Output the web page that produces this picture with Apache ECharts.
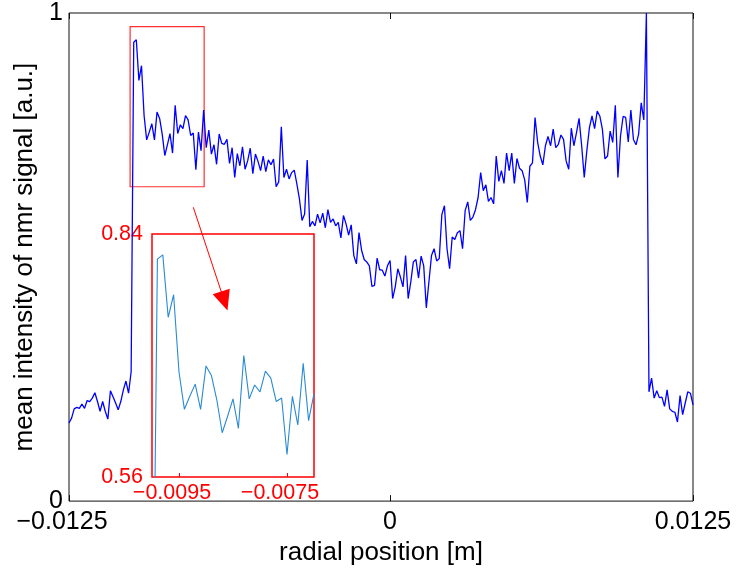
<!DOCTYPE html>
<html>
<head>
<meta charset="utf-8">
<script src="https://cdn.jsdelivr.net/npm/echarts@6/dist/echarts.min.js"></script>
<style>
html,body{margin:0;padding:0;background:#fff;}
#chart{width:737px;height:571px;}
</style>
</head>
<body>
<div id="chart"></div>
<script>
// ---- data ----
// main profile: sampled every 0.1 mm starting at -12.4 mm
const X_START = -0.0124;
const X_STEP = 0.0001;
const signal = [
  0.160,0.170,0.189,0.192,0.190,0.199,0.190,0.206,0.204,0.211,0.222,0.204,0.184,0.204,0.184,0.168,0.226,0.214,0.201,0.187,0.204,0.228,0.246,0.221,
  0.265,0.940,0.945,0.862,0.892,0.790,0.740,0.756,0.773,0.740,0.797,0.784,0.752,0.708,0.730,0.753,0.713,0.811,0.753,0.771,0.763,0.790,0.781,0.749,0.754,0.679,0.756,0.718,0.801,0.724,0.760,
  0.711,0.730,0.690,0.752,0.733,0.731,0.741,0.692,0.724,0.663,0.712,0.687,0.726,0.680,0.697,0.723,0.671,0.711,0.696,0.677,0.707,0.675,0.699,0.689,0.701,0.644,0.654,0.767,0.663,0.680,0.660,0.673,0.678,0.650,0.619,
  0.575,0.588,0.699,
  0.562,0.573,0.564,0.588,0.570,0.590,0.560,0.597,0.571,0.578,
  0.564,0.571,0.539,0.585,0.568,0.545,0.566,0.503,0.486,0.550,
  0.514,0.495,0.490,0.482,0.440,0.442,0.498,0.474,0.473,0.461,
  0.482,0.493,0.415,0.439,0.476,0.459,0.439,0.503,0.415,0.449,
  0.490,0.495,0.457,0.502,0.482,0.396,0.449,0.503,0.517,0.492,
  0.497,0.587,0.605,0.517,0.476,0.541,0.536,0.550,0.554,0.517,
  0.595,0.613,0.575,0.582,0.597,0.622,0.673,0.636,0.648,0.614,
  0.622,0.609,0.707,0.655,0.677,0.651,0.713,0.677,0.713,0.651,
  0.702,0.682,0.677,0.658,0.612,0.686,0.693,
  0.786,0.735,0.707,0.689,0.728,0.747,0.728,0.762,0.724,0.731,
  0.750,0.741,0.697,0.680,0.764,0.728,0.755,0.784,0.728,0.663,
  0.718,0.765,0.789,0.763,0.799,0.789,0.762,0.701,0.707,0.758,
  0.735,0.811,0.663,0.748,0.788,0.786,0.736,0.801,0.741,0.730,
  0.752,0.816,0.781,1.000,
  0.224,0.252,0.211,0.226,0.212,0.213,0.194,0.228,0.189,0.184,0.182,0.162,0.216,0.177,0.201,0.224,0.221,0.197
];
// inset (zoom of the left edge), in its own units
const INSET_X_START = -0.0100;
const insetSignal = [
  0.229,0.811,0.816,0.744,0.770,0.681,0.638,0.653,0.667,0.638,0.688,0.677,0.649,0.611,0.630,0.650,
  0.616,0.700,0.650,0.666,0.658,0.682,0.674,0.647,0.651,0.586,0.653,0.620,0.691,0.625,0.656
];
// axis ticks
const mainXRange = [-0.0124, 0.0117];
const mainXTicks = [-0.0124, 0, 0.0117];
const mainXTickLabels = ['\u22120.0125', '0', '0.0125'];
const mainYTicks = [0, 1];
const insetXRange = [-0.0100, -0.0070];
const insetYRange = [0.56, 0.84];
const insetXTicks = [-0.0095, -0.0075];
const insetYTicks = [0.56, 0.84];
// annotations (data space)
const zoomBox = { x: [-0.01004, -0.00718], y: [0.644, 0.972] };
const arrow = { from: [-0.0076, 0.602], to: [-0.0064, 0.410] };

// ---- build ----
const mainData = signal.map((v, i) => [+(X_START + i * X_STEP).toFixed(5), v]);
const insetData = insetSignal.map((v, i) => [+(INSET_X_START + i * X_STEP).toFixed(5), v]);

const FONT = "'Liberation Sans', Arial, Helvetica, sans-serif";
const RED = '#ff0000';

function mainXLabel(v) {
  let best = 0, d = Infinity;
  mainXTicks.forEach((t, i) => { if (Math.abs(t - v) < d) { d = Math.abs(t - v); best = i; } });
  const s = mainXTickLabels[best];
  return s.charAt(0) === '\u2212' ? '{neg|' + s + '}' : s;
}
function insetXLabel(v) {
  return '{neg|\u2212' + Math.abs(v).toFixed(4) + '}';
}

const chart = echarts.init(document.getElementById('chart'), null, { renderer: 'canvas' });
chart.setOption({
  animation: false,
  backgroundColor: '#fff',
  textStyle: { fontFamily: FONT },
  grid: [
    { left: 69, top: 13, width: 624, height: 490, show: true, borderColor: '#111', borderWidth: 1, backgroundColor: 'transparent' },
    { left: 152, top: 234, width: 162, height: 243, show: true, borderColor: RED, borderWidth: 1.5, backgroundColor: 'transparent' }
  ],
  xAxis: [
    {
      type: 'value', gridIndex: 0, position: 'bottom',
      min: mainXRange[0], max: mainXRange[1],
      name: 'radial position [m]', nameLocation: 'middle', nameGap: 33,
      nameTextStyle: { fontSize: 26, color: '#000', fontFamily: FONT },
      axisLine: { show: false },
      splitLine: { show: false },
      axisTick: { show: true, inside: true, length: 6, customValues: mainXTicks, lineStyle: { color: '#111' } },
      axisLabel: {
        show: true, customValues: mainXTicks, formatter: mainXLabel, margin: 9,
        fontSize: 25, color: '#000', fontFamily: FONT,
        showMinLabel: true, showMaxLabel: true,
        rich: { neg: { fontSize: 25, color: '#000', fontFamily: FONT, padding: [0, 14, 0, 0] } }
      }
    },
    {
      type: 'value', gridIndex: 0, position: 'top',
      min: mainXRange[0], max: mainXRange[1],
      axisLine: { show: false }, splitLine: { show: false },
      axisTick: { show: true, inside: true, length: 6, customValues: mainXTicks, lineStyle: { color: '#111' } },
      axisLabel: { show: false }
    },
    {
      type: 'value', gridIndex: 1, position: 'bottom',
      min: insetXRange[0], max: insetXRange[1],
      axisLine: { show: false }, splitLine: { show: false },
      axisTick: { show: true, inside: true, length: 4, customValues: insetXTicks, lineStyle: { color: RED } },
      axisLabel: {
        show: true, customValues: insetXTicks, formatter: insetXLabel, margin: 5,
        fontSize: 21.5, color: RED, fontFamily: FONT,
        rich: { neg: { fontSize: 21.5, color: RED, fontFamily: FONT, padding: [0, 14, 0, 0] } }
      }
    }
  ],
  yAxis: [
    {
      type: 'value', gridIndex: 0, min: 0, max: 1,
      name: 'mean intensity of nmr signal [a.u.]', nameLocation: 'middle', nameGap: 23, nameRotate: 90,
      nameTextStyle: { fontSize: 26, color: '#000', fontFamily: FONT },
      axisLine: { show: false }, splitLine: { show: false },
      axisTick: { show: false },
      axisLabel: { show: true, customValues: mainYTicks, margin: 6, fontSize: 25, color: '#000', fontFamily: FONT, showMinLabel: true, showMaxLabel: true }
    },
    {
      type: 'value', gridIndex: 1, min: insetYRange[0], max: insetYRange[1],
      axisLine: { show: false }, splitLine: { show: false },
      axisTick: { show: false },
      axisLabel: { show: true, customValues: insetYTicks, formatter: v => v.toFixed(2), margin: 9, fontSize: 21.5, color: RED, fontFamily: FONT, showMinLabel: true, showMaxLabel: true }
    }
  ],
  series: [
    {
      type: 'line', xAxisIndex: 0, yAxisIndex: 0, data: mainData,
      showSymbol: false, symbol: 'none', clip: true, silent: true,
      lineStyle: { color: '#0000ff', width: 1.3 },
      markArea: {
        silent: true,
        itemStyle: { color: 'rgba(0,0,0,0)', borderColor: '#ff3030', borderWidth: 1.2 },
        label: { show: false },
        data: [[{ coord: [zoomBox.x[0], zoomBox.y[1]] }, { coord: [zoomBox.x[1], zoomBox.y[0]] }]]
      },
      markLine: {
        silent: true, animation: false,
        symbol: ['none', 'triangle'], symbolSize: [18, 20],
        label: { show: false },
        lineStyle: { color: RED, width: 1, type: 'solid' },
        data: [[{ coord: arrow.from }, { coord: arrow.to }]]
      }
    },
    {
      type: 'line', xAxisIndex: 2, yAxisIndex: 1, data: insetData,
      showSymbol: false, symbol: 'none', clip: true, silent: true,
      lineStyle: { color: '#2a8ad4', width: 1.1 }
    }
  ]
});
</script>
</body>
</html>
